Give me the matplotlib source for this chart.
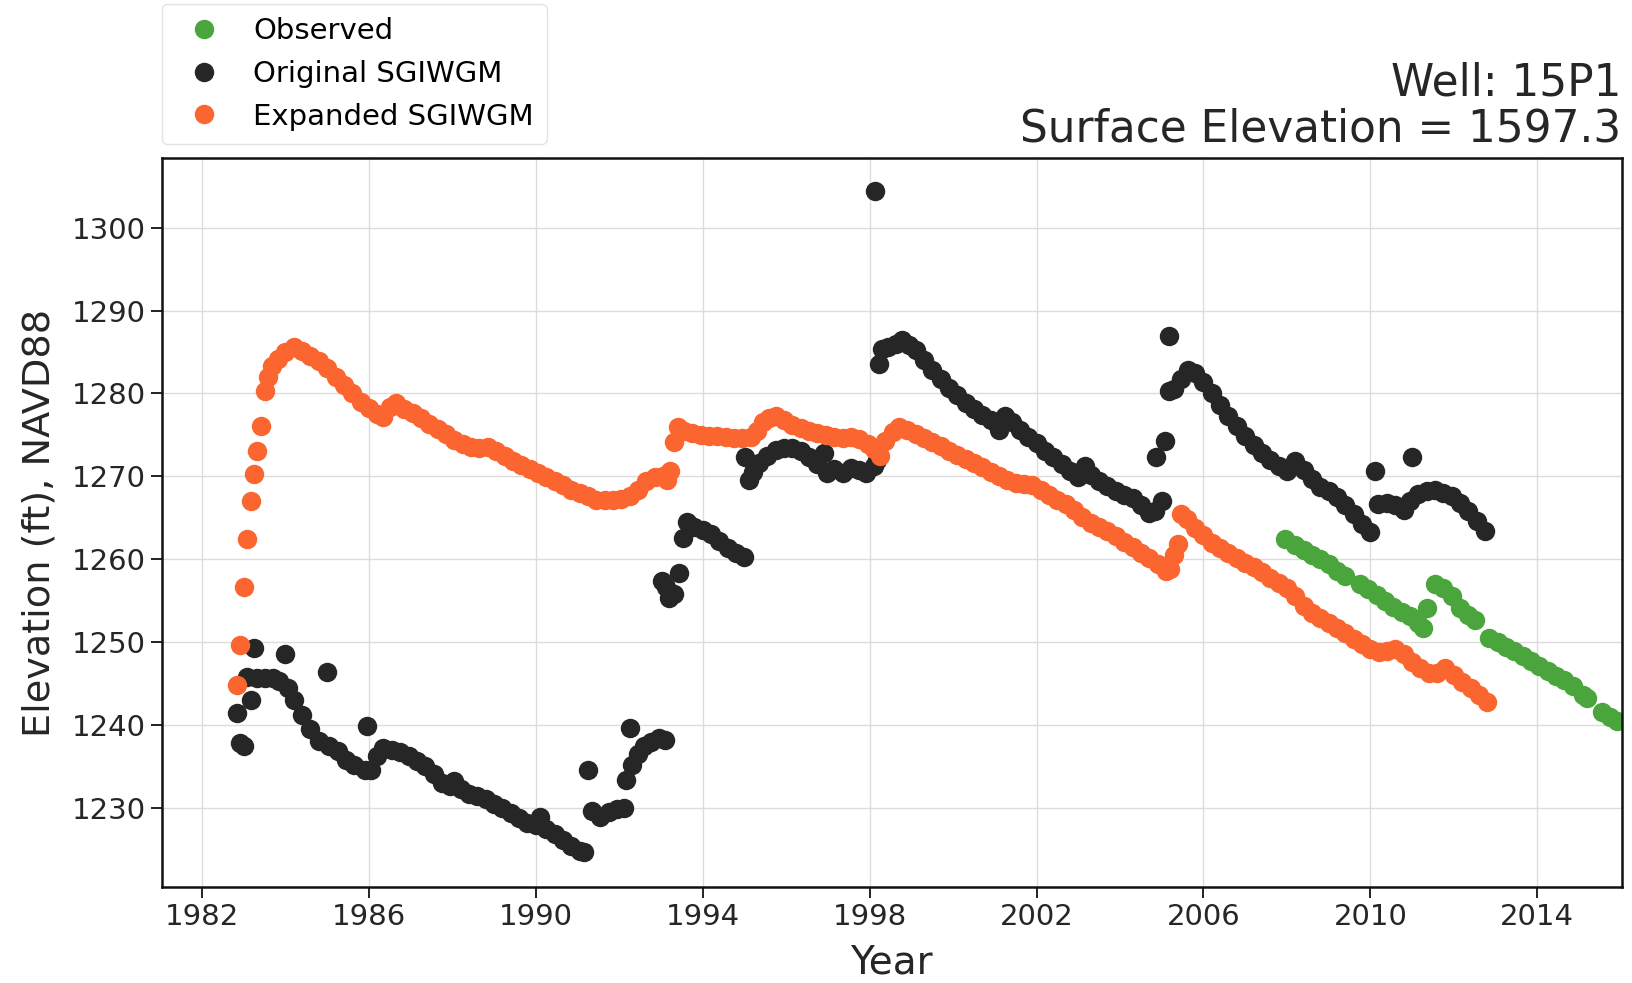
import matplotlib
matplotlib.use("Agg")
import matplotlib.pyplot as plt

# observed water levels (decimal year, ft NAVD88)
obs_year = [2007.95, 2008.20, 2008.40, 2008.60, 2008.80, 2009.00, 2009.20, 2009.40, 2009.75, 2009.95,
            2010.15, 2010.35, 2010.55, 2010.75, 2010.95, 2011.15, 2011.25, 2011.36, 2011.55, 2011.75,
            2011.95, 2012.15, 2012.35, 2012.50, 2012.85, 2013.05, 2013.25, 2013.45, 2013.65, 2013.85,
            2014.05, 2014.25, 2014.45, 2014.65, 2014.85, 2015.10, 2015.20, 2015.55, 2015.75, 2015.90]
obs_elev = [1262.4, 1261.7, 1261.1, 1260.5, 1260.0, 1259.4, 1258.6, 1258.0, 1257.0, 1256.4,
            1255.7, 1254.9, 1254.2, 1253.6, 1253.1, 1252.3, 1251.7, 1254.1, 1257.0, 1256.5,
            1255.5, 1254.1, 1253.2, 1252.6, 1250.5, 1250.0, 1249.4, 1248.9, 1248.3, 1247.7,
            1247.1, 1246.5, 1245.9, 1245.4, 1244.7, 1243.6, 1243.2, 1241.6, 1241.0, 1240.4]

# original SGIWGM simulated heads
orig_year = [1982.83, 1982.92, 1983.00, 1983.08, 1983.17, 1983.25, 1983.33, 1983.50, 1983.70, 1983.85,
             1983.99, 1984.05, 1984.20, 1984.40, 1984.60, 1984.80, 1985.00, 1985.05, 1985.25, 1985.45,
             1985.65, 1985.90, 1985.96, 1986.05, 1986.20, 1986.35, 1986.55, 1986.75, 1986.95, 1987.15,
             1987.35, 1987.55, 1987.75, 1987.95, 1988.05, 1988.20, 1988.40, 1988.60, 1988.80, 1989.00,
             1989.20, 1989.40, 1989.60, 1989.80, 1990.00, 1990.10, 1990.25, 1990.45, 1990.65, 1990.85,
             1991.05, 1991.15, 1991.26, 1991.35, 1991.55, 1991.75, 1991.95, 1992.12, 1992.15, 1992.25,
             1992.30, 1992.45, 1992.60, 1992.75, 1992.95, 1993.10, 1993.02, 1993.12, 1993.20, 1993.30,
             1993.42, 1993.52, 1993.62, 1993.80, 1994.00, 1994.20, 1994.40, 1994.60, 1994.80, 1994.98,
             1995.02, 1995.10, 1995.20, 1995.35, 1995.55, 1995.75, 1995.95, 1996.15, 1996.35, 1996.55,
             1996.75, 1996.90, 1996.98, 1997.15, 1997.35, 1997.55, 1997.75, 1997.92, 1998.10, 1998.18,
             1998.14, 1998.22, 1998.30, 1998.45, 1998.62, 1998.78, 1998.95, 1999.10, 1999.30, 1999.50,
             1999.70, 1999.90, 2000.10, 2000.30, 2000.50, 2000.70, 2000.90, 2001.10, 2001.25, 2001.40,
             2001.60, 2001.80, 2002.00, 2002.20, 2002.40, 2002.60, 2002.80, 2003.00, 2003.15, 2003.30,
             2003.50, 2003.70, 2003.90, 2004.10, 2004.30, 2004.50, 2004.70, 2004.85, 2005.00, 2004.86,
             2005.08, 2005.17, 2005.18, 2005.30, 2005.45, 2005.62, 2005.80, 2006.00, 2006.20, 2006.40,
             2006.60, 2006.80, 2007.00, 2007.20, 2007.40, 2007.60, 2007.80, 2008.00, 2008.20, 2008.40,
             2008.60, 2008.80, 2009.00, 2009.20, 2009.40, 2009.60, 2009.80, 2010.00, 2010.10, 2010.18,
             2010.40, 2010.60, 2010.80, 2010.95, 2011.00, 2011.15, 2011.35, 2011.55, 2011.75, 2011.95,
             2012.15, 2012.35, 2012.55, 2012.75]
orig_elev = [1241.4, 1237.8, 1237.5, 1245.8, 1243.0, 1249.3, 1245.7, 1245.6, 1245.6, 1245.3,
             1248.6, 1244.5, 1243.0, 1241.2, 1239.5, 1238.1, 1246.4, 1237.5, 1236.8, 1235.8,
             1235.2, 1234.6, 1239.8, 1234.5, 1236.2, 1237.2, 1237.0, 1236.7, 1236.2, 1235.6,
             1235.0, 1234.1, 1233.0, 1232.6, 1233.2, 1232.2, 1231.7, 1231.4, 1231.0, 1230.5,
             1229.9, 1229.4, 1228.8, 1228.2, 1227.9, 1228.9, 1227.4, 1226.8, 1226.1, 1225.4,
             1224.8, 1224.6, 1234.5, 1229.6, 1228.9, 1229.5, 1229.8, 1229.9, 1233.3, 1239.6,
             1235.2, 1236.5, 1237.4, 1237.9, 1238.4, 1238.2, 1257.4, 1256.6, 1255.3, 1255.8,
             1258.3, 1262.6, 1264.5, 1263.9, 1263.5, 1263.0, 1262.2, 1261.4, 1260.8, 1260.2,
             1272.3, 1269.5, 1270.5, 1271.6, 1272.4, 1273.2, 1273.4, 1273.4, 1273.0, 1272.3,
             1271.5, 1272.8, 1270.4, 1270.9, 1270.4, 1271.0, 1270.8, 1270.4, 1271.3, 1272.0,
             1304.5, 1283.6, 1285.4, 1285.6, 1286.0, 1286.4, 1285.8, 1285.2, 1284.0, 1282.8,
             1281.8, 1280.7, 1279.8, 1278.9, 1278.1, 1277.4, 1276.8, 1275.6, 1277.3, 1276.6,
             1275.6, 1274.8, 1274.0, 1273.1, 1272.3, 1271.5, 1270.7, 1269.9, 1271.2, 1270.2,
             1269.4, 1268.8, 1268.2, 1267.8, 1267.4, 1266.5, 1265.6, 1265.8, 1267.0, 1272.3,
             1274.3, 1287.0, 1280.3, 1280.5, 1281.8, 1282.8, 1282.5, 1281.4, 1280.0, 1278.6,
             1277.3, 1276.1, 1274.9, 1273.8, 1272.8, 1272.0, 1271.2, 1270.7, 1271.8, 1270.8,
             1269.7, 1268.7, 1268.2, 1267.5, 1266.5, 1265.5, 1264.3, 1263.3, 1270.7, 1266.6,
             1266.8, 1266.5, 1265.9, 1267.0, 1272.3, 1267.9, 1268.2, 1268.3, 1268.0, 1267.6,
             1266.8, 1265.8, 1264.6, 1263.4]

# expanded SGIWGM simulated heads
exp_year = [1982.83, 1982.92, 1983.00, 1983.08, 1983.17, 1983.25, 1983.33, 1983.42, 1983.50, 1983.58,
            1983.67, 1983.83, 1984.00, 1984.20, 1984.40, 1984.60, 1984.80, 1985.00, 1985.20, 1985.40,
            1985.60, 1985.80, 1986.00, 1986.20, 1986.35, 1986.50, 1986.65, 1986.85, 1987.05, 1987.25,
            1987.45, 1987.65, 1987.85, 1988.05, 1988.25, 1988.45, 1988.65, 1988.85, 1989.05, 1989.25,
            1989.45, 1989.65, 1989.85, 1990.05, 1990.25, 1990.45, 1990.65, 1990.85, 1991.05, 1991.25,
            1991.45, 1991.65, 1991.85, 1992.05, 1992.25, 1992.45, 1992.65, 1992.85, 1993.05, 1993.15,
            1993.22, 1993.32, 1993.40, 1993.55, 1993.75, 1993.95, 1994.15, 1994.35, 1994.55, 1994.75,
            1994.95, 1995.15, 1995.30, 1995.45, 1995.60, 1995.75, 1995.95, 1996.15, 1996.35, 1996.55,
            1996.75, 1996.95, 1997.15, 1997.35, 1997.55, 1997.75, 1997.95, 1998.10, 1998.25, 1998.38,
            1998.55, 1998.70, 1998.90, 1999.10, 1999.30, 1999.50, 1999.70, 1999.90, 2000.10, 2000.30,
            2000.50, 2000.70, 2000.90, 2001.10, 2001.30, 2001.50, 2001.70, 2001.90, 2002.10, 2002.30,
            2002.50, 2002.70, 2002.90, 2003.10, 2003.30, 2003.50, 2003.70, 2003.90, 2004.10, 2004.30,
            2004.50, 2004.70, 2004.90, 2005.10, 2005.20, 2005.30, 2005.38, 2005.47, 2005.60, 2005.80,
            2006.00, 2006.20, 2006.40, 2006.60, 2006.80, 2007.00, 2007.20, 2007.40, 2007.60, 2007.80,
            2008.00, 2008.20, 2008.40, 2008.60, 2008.80, 2009.00, 2009.20, 2009.40, 2009.60, 2009.80,
            2010.00, 2010.20, 2010.40, 2010.60, 2010.80, 2011.00, 2011.20, 2011.40, 2011.60, 2011.80,
            2012.00, 2012.20, 2012.40, 2012.60, 2012.80]
exp_elev = [1244.8, 1249.6, 1256.6, 1262.4, 1267.0, 1270.3, 1273.0, 1276.1, 1280.3, 1282.0,
            1283.3, 1284.2, 1285.0, 1285.6, 1285.1, 1284.5, 1283.9, 1283.1, 1282.0, 1281.0,
            1280.0, 1279.0, 1278.3, 1277.5, 1277.2, 1278.4, 1278.9, 1278.1, 1277.6, 1277.0,
            1276.3, 1275.7, 1275.1, 1274.4, 1273.9, 1273.5, 1273.4, 1273.5, 1273.0, 1272.4,
            1271.9, 1271.4, 1270.9, 1270.4, 1269.9, 1269.4, 1268.9, 1268.4, 1268.0, 1267.6,
            1267.2, 1267.1, 1267.2, 1267.3, 1267.6, 1268.4, 1269.4, 1269.9, 1270.0, 1269.5,
            1270.6, 1274.2, 1276.0, 1275.5, 1275.2, 1275.0, 1274.9, 1274.9, 1274.8, 1274.6,
            1274.6, 1274.8, 1275.5, 1276.5, 1277.0, 1277.3, 1276.8, 1276.2, 1275.8, 1275.5,
            1275.2, 1275.0, 1274.8, 1274.6, 1274.8, 1274.5, 1273.9, 1273.3, 1272.5, 1274.3,
            1275.4, 1275.9, 1275.6, 1275.1, 1274.6, 1274.2, 1273.7, 1273.1, 1272.6, 1272.1,
            1271.6, 1271.1, 1270.5, 1270.0, 1269.5, 1269.2, 1269.1, 1268.9, 1268.4, 1267.8,
            1267.2, 1266.6, 1265.9, 1265.1, 1264.4, 1263.9, 1263.4, 1262.8, 1262.1, 1261.5,
            1260.8, 1260.1, 1259.4, 1258.6, 1258.8, 1260.5, 1261.8, 1265.5, 1264.8, 1263.8,
            1262.9, 1262.0, 1261.3, 1260.7, 1260.1, 1259.5, 1259.0, 1258.4, 1257.7, 1257.1,
            1256.5, 1255.5, 1254.4, 1253.5, 1252.9, 1252.3, 1251.7, 1251.1, 1250.4, 1249.8,
            1249.2, 1248.8, 1248.9, 1249.2, 1248.6, 1247.6, 1246.8, 1246.2, 1246.2, 1246.8,
            1246.0, 1245.2, 1244.4, 1243.6, 1242.8]

x_ticks = [1982, 1986, 1990, 1994, 1998, 2002, 2006, 2010, 2014]
y_ticks = [1230, 1240, 1250, 1260, 1270, 1280, 1290, 1300]

GREEN = "#4aa63c"
BLACK = "#262626"
ORANGE = "#fb6530"

fig = plt.figure(figsize=(16.33, 9.83), dpi=100)
ax = fig.add_axes([0.0989, 0.0975, 0.8941, 0.7415])

ms = 14
ax.plot(obs_year, obs_elev, "o", ls="none", ms=ms, color=GREEN, mew=0, label="Observed")
ax.plot(orig_year, orig_elev, "o", ls="none", ms=ms, color=BLACK, mew=0, label="Original SGIWGM")
ax.plot(exp_year, exp_elev, "o", ls="none", ms=ms, color=ORANGE, mew=0, label="Expanded SGIWGM")

ax.set_xlim(1981.03, 2016.02)
ax.set_ylim(1220.4, 1308.4)
ax.set_xticks(x_ticks)
ax.set_yticks(y_ticks)
ax.grid(True, color="#dcdcdc", lw=1.0)
ax.set_axisbelow(True)
for s in ax.spines.values():
    s.set_color("#111111")
    s.set_linewidth(1.8)
ax.tick_params(labelsize=21, length=8, width=1.3, colors="#111111", labelcolor="#262626")

ax.set_xlabel("Year", fontsize=28, color="#262626", labelpad=9)
ax.set_ylabel("Elevation (ft), NAVD88", fontsize=27.5, color="#262626", labelpad=10)
ax.set_title("Well: 15P1\nSurface Elevation = 1597.3", loc="right", fontsize=31.5,
             color="#262626", pad=12, linespacing=1.1)

leg = ax.legend(loc="lower left", bbox_to_anchor=(0.0, 1.02), borderaxespad=0,
                fontsize=21, numpoints=1, handletextpad=0.7, labelspacing=0.5,
                borderpad=0.45, frameon=True, fancybox=True, edgecolor="#dddddd")

fig.savefig("out.png", dpi=100)
